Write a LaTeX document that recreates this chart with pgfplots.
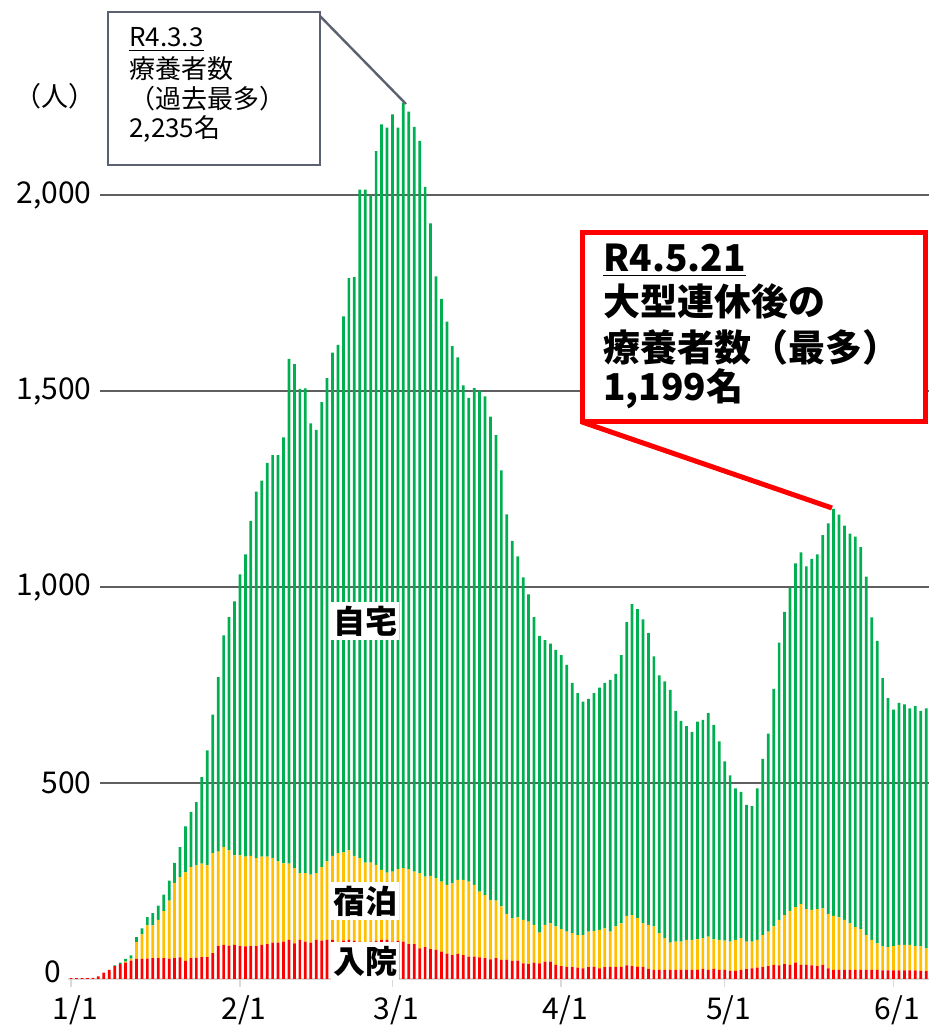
\documentclass[border=0pt]{standalone}
\usepackage{pgfplots}
\pgfplotsset{compat=1.18}
\usepackage{pgfplotstable}
\usepackage{fontspec}
\setmainfont{Noto Sans CJK JP}
\definecolor{cgreen}{HTML}{00B050}
\definecolor{cyellow}{HTML}{FFC000}
\definecolor{cred}{HTML}{FF0000}
\definecolor{cgrid}{HTML}{5F5F5F}
\definecolor{cbox}{HTML}{5B6170}
\definecolor{caxis}{HTML}{D9D9D9}

% day, 入院 (R), 宿泊 (S), 自宅 (J)
\pgfplotstableread{
day R S J
0 2 0 0
1 2 0 0
2 2 0 0
3 2 0 0
4 3 0 0
5 7 0 0
6 16 0 0
7 23 0 0
8 33 0 2
9 38 0 4
10 42 2 7
11 47 5 8
12 51 43 13
13 51 63 15
14 52 85 21
15 53 84 31
16 53 98 36
17 53 120 42
18 52 148 51
19 53 192 51
20 55 205 76
21 46 226 117
22 53 232 141
23 54 236 161
24 56 238 221
25 56 234 293
26 66 255 353
27 84 241 445
28 87 249 540
29 85 243 595
30 87 228 648
31 84 231 717
32 83 229 771
33 84 230 854
34 84 224 935
35 87 225 959
36 89 223 1004
37 93 215 1028
38 93 207 1036
39 95 200 1086
40 100 194 1287
41 91 192 1285
42 100 170 1235
43 95 175 1236
44 93 173 1151
45 100 170 1130
46 98 187 1186
47 100 200 1232
48 100 214 1283
49 93 228 1296
50 98 225 1367
51 100 228 1459
52 97 217 1476
53 95 213 1705
54 93 204 1716
55 95 202 1701
56 97 194 1820
57 100 178 1901
58 100 171 1900
59 95 179 1931
60 97 183 1891
61 95 188 1952
62 89 191 1932
63 89 185 1899
64 78 192 1867
65 81 180 1759
66 76 187 1664
67 74 183 1535
68 70 178 1486
69 65 175 1436
70 61 183 1370
71 64 189 1332
72 61 192 1261
73 57 191 1234
74 57 183 1267
75 55 168 1277
76 53 161 1272
77 50 152 1232
78 53 147 1187
79 49 136 1112
80 49 117 1019
81 46 109 962
82 47 110 921
83 40 111 873
84 38 108 835
85 42 96 785
86 40 78 757
87 44 94 726
88 44 98 713
89 36 98 705
90 33 94 699
91 31 90 680
92 30 87 638
93 29 83 617
94 27 85 595
95 30 91 593
96 31 92 606
97 27 98 618
98 30 99 626
99 31 90 642
100 31 103 644
101 31 111 684
102 35 126 749
103 33 130 793
104 31 124 788
105 31 111 775
106 26 112 744
107 23 111 689
108 23 94 657
109 23 81 655
110 23 70 644
111 23 72 589
112 23 72 563
113 23 77 545
114 23 77 530
115 23 78 555
116 26 78 557
117 23 85 570
118 26 75 547
119 23 77 506
120 23 75 457
121 21 74 424
122 21 79 386
123 23 81 373
124 25 70 349
125 27 68 346
126 29 71 386
127 30 82 449
128 33 88 505
129 36 98 606
130 35 116 707
131 38 125 773
132 36 138 824
133 42 141 877
134 36 155 897
135 36 142 874
136 35 141 895
137 33 145 905
138 36 144 952
139 27 139 996
140 23 138 1038
141 23 134 1027
142 23 128 1005
143 23 119 994
144 23 109 996
145 23 104 974
146 23 89 914
147 23 77 822
148 23 68 771
149 22 61 684
150 22 59 635
151 22 62 603
152 22 65 617
153 22 65 613
154 22 65 603
155 22 62 612
156 21 62 601
157 20 58 612
}\data

\begin{document}
\begin{tikzpicture}[x=1pt,y=1pt]
\path[use as bounding box] (0,0) rectangle (465,514.5);
\begin{axis}[
  at={(34.2pt,25pt)}, anchor=south west,
  scale only axis, width=430.25pt, height=450.98pt,
  xmin=-0.5, xmax=157.5, ymin=0, ymax=2300,
  ybar stacked, bar width=0.5,
  axis x line=bottom, axis y line=left,
  x axis line style={-, draw=caxis, line width=1pt},
  y axis line style={draw=none},
  ytick={500,1000,1500,2000}, yticklabels={},
  ytick style={draw=none},
  ymajorgrids, major grid style={draw=cgrid, line width=1pt},
  xtick={0,31,59,90,120,151},
  xticklabels={1/1,2/1,3/1,4/1,5/1,6/1},
  xtick style={draw=caxis, line width=0.8pt},
  tick align=outside, major tick length=4pt,
  xticklabel style={font=\fontsize{15}{18}\selectfont, xshift=2pt, yshift=-1pt},
  clip=false,
]
\addplot[fill=cred, draw=none] table[x=day, y=R] {\data};
\addplot[fill=cyellow, draw=none] table[x=day, y=S] {\data};
\addplot[fill=cgreen, draw=none] table[x=day, y=J] {\data};
\end{axis}

% y tick labels
\begin{scope}[every node/.style={font=\fontsize{15}{18}\selectfont, fill=white, inner xsep=4pt, inner ysep=1pt, anchor=east}]
\node at (50,417) {2,000};
\node at (50,319) {1,500};
\node at (50,221) {1,000};
\node at (50,123) {500};
\node[fill=none] at (35,28.5) {0};
\end{scope}
\node[font=\fontsize{13.5}{16}\selectfont, anchor=base west, inner sep=0pt] at (7,461) {（人）};

% series labels
\begin{scope}[every node/.style={font=\fontsize{16}{18}\bfseries\selectfont, fill=white, inner xsep=1pt, inner ysep=2pt}]
\node at (182.5,204) {自宅};
\node at (182.5,64) {宿泊};
\node at (182.5,34) {入院};
\end{scope}

% annotation 1
\draw[cbox, line width=1.2pt] (158.5,508) -- (203,462.5);
\draw[cbox, line width=1pt, fill=white] (54,432) rectangle (160,508.5);
\begin{scope}[every node/.style={font=\fontsize{13}{16}\selectfont, anchor=base west, inner sep=0pt}]
\node at (64.5,491) {\underline{R4.3.3}};
\node at (64.5,475) {療養者数};
\node at (64.5,460) {（過去最多）};
\node at (64.5,445.5) {2,235名};
\end{scope}

% annotation 2
\draw[cred, line width=2.5pt] (291,303.5) -- (416,260.5);
\draw[cred, line width=2.5pt, fill=white] (291,303.5) rectangle (462.5,398);
\begin{scope}[every node/.style={font=\fontsize{18.5}{22}\bfseries\selectfont, anchor=base west, inner sep=0pt}]
\node at (301.5,378.5) {\underline{R4.5.21}};
\node at (301.5,356.5) {大型連休後の};
\node at (301.5,333.5) {療養者数（最多）};
\node at (301.5,314) {1,199名};
\end{scope}
\end{tikzpicture}
\end{document}
